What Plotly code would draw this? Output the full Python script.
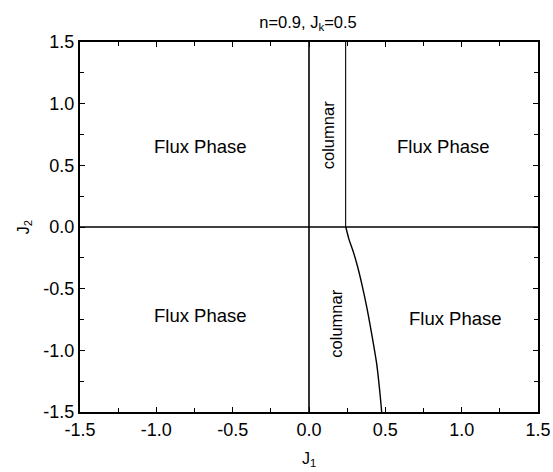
import plotly.graph_objects as go

# Phase boundaries (J1, J2)
axis_v_x = [0.0, 0.0]
axis_v_y = [-1.5, 1.5]
axis_h_x = [-1.5, 1.5]
axis_h_y = [0.0, 0.0]
upper_bound_x = [0.24, 0.24]
upper_bound_y = [0.0, 1.5]
lower_curve_x = [0.241, 0.262, 0.29, 0.318, 0.345, 0.378, 0.41, 0.443, 0.465, 0.476]
lower_curve_y = [0.0, -0.1, -0.2, -0.32, -0.457, -0.647, -0.862, -1.106, -1.35, -1.5]

tick_vals = [-1.5, -1.0, -0.5, 0.0, 0.5, 1.0, 1.5]
tick_text = ["-1.5", "-1.0", "-0.5", "0.0", "0.5", "1.0", "1.5"]

FONT = "Liberation Sans, Arial, sans-serif"

W, H = 553, 472

fig = go.Figure()
fig.add_trace(go.Scatter(x=axis_v_x, y=axis_v_y, mode="lines", line=dict(color="black", width=1.6), showlegend=False))
fig.add_trace(go.Scatter(x=axis_h_x, y=axis_h_y, mode="lines", line=dict(color="black", width=1.6), showlegend=False))
fig.add_trace(go.Scatter(x=upper_bound_x, y=upper_bound_y, mode="lines", line=dict(color="black", width=1.1), showlegend=False))
fig.add_trace(go.Scatter(x=lower_curve_x, y=lower_curve_y, mode="lines", line=dict(color="black", width=1.4, shape="spline", smoothing=0.8), showlegend=False))

ann_font = dict(family=FONT, size=18.5, color="black")
for x, y in [(-0.714, 0.65), (0.88, 0.65), (-0.714, -0.72), (0.96, -0.74)]:
    fig.add_annotation(x=x, y=y, text="Flux Phase", showarrow=False, font=ann_font)
for x, y in [(0.126, 0.746), (0.18, -0.78)]:
    fig.add_annotation(x=x, y=y, text="columnar", showarrow=False, textangle=-90,
                       font=dict(family=FONT, size=16.5, color="black"))

axis_common = dict(
    range=[-1.5, 1.5], tickmode="array", tickvals=tick_vals, ticktext=tick_text,
    ticks="inside", ticklen=5, tickwidth=1.2, tickcolor="black",
    minor=dict(ticks="inside", ticklen=4, tickwidth=1.2, tickcolor="black", dtick=0.25),
    showline=True, linewidth=2, linecolor="black", mirror="allticks",
    showgrid=False, zeroline=False, automargin=False,
    tickfont=dict(family=FONT, size=18, color="black"),
)

fig.update_layout(
    width=W, height=H,
    margin=dict(l=80, r=15, t=42, b=60),
    paper_bgcolor="white", plot_bgcolor="white",
    title=dict(text="n=0.9, J<sub>k</sub>=0.5", x=308 / W, xanchor="center",
               y=1 - 22 / H, yanchor="middle", yref="container",
               font=dict(family=FONT, size=16.5, color="black")),
    xaxis=dict(axis_common, title=dict(text="J<sub>1</sub>", standoff=14,
                                       font=dict(family=FONT, size=16, color="black"))),
    yaxis=dict(axis_common, title=dict(text="J<sub>2</sub>", standoff=10,
                                       font=dict(family=FONT, size=16, color="black"))),
)

fig.write_html("out.html", config={"displayModeBar": False},
               post_script="document.body.style.margin='0';document.body.style.overflow='hidden';")
